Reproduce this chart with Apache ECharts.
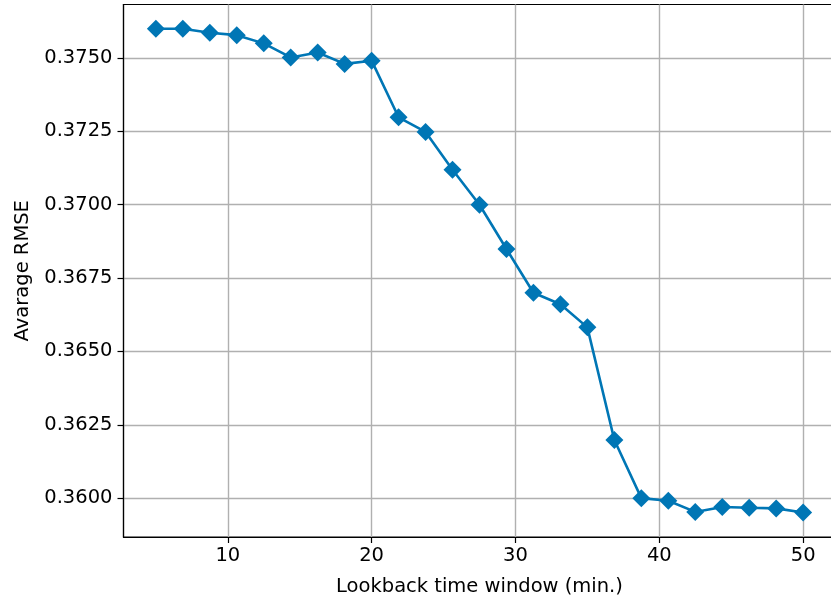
<!DOCTYPE html>
<html>
<head>
<meta charset="utf-8">
<script src="https://cdn.jsdelivr.net/npm/echarts@6/dist/echarts.min.js"></script>
<style>
  html, body { margin: 0; padding: 0; background: #fff; }
  #chart { width: 831px; height: 600px; }
</style>
</head>
<body>
<div id="chart"></div>
<script>
// Lookback window lengths (minutes)
const windows = [5, 6.875, 8.75, 10.625, 12.5, 14.375, 16.25, 18.125, 20, 21.875,
  23.75, 25.625, 27.5, 29.375, 31.25, 33.125, 35, 36.875, 38.75, 40.625,
  42.5, 44.375, 46.25, 48.125, 50];
// Average RMSE for each window
const avgRmse = [0.3760, 0.3760, 0.37586, 0.37578, 0.3755, 0.37502, 0.37519, 0.3748, 0.37491, 0.37298,
  0.37248, 0.37119, 0.3700, 0.36849, 0.3670, 0.36661, 0.36582, 0.36198, 0.3600, 0.35991,
  0.35953, 0.3597, 0.35967, 0.35965, 0.35951];
// Tick positions
const xTicks = [10, 20, 30, 40, 50];
const yTicks = [0.3600, 0.3625, 0.3650, 0.3675, 0.3700, 0.3725, 0.3750];

const FONT = 'DejaVu Sans';
const FS = 19.5;
const chart = echarts.init(document.getElementById('chart'), null, { renderer: 'canvas' });

chart.setOption({
  animation: false,
  backgroundColor: '#ffffff',
  grid: {
    left: 123.5, top: 4.5, width: 712, height: 532.5,
    outerBoundsMode: 'none',
    containLabel: false,
    show: true, borderColor: '#000', borderWidth: 1.2, backgroundColor: 'transparent'
  },
  xAxis: {
    type: 'value',
    min: 2.75, max: 52.25,
    name: 'Lookback time window (min.)',
    nameLocation: 'middle',
    nameGap: 40,
    nameTextStyle: { fontFamily: FONT, fontSize: FS, color: '#000' },
    axisLine: { show: true, onZero: false, lineStyle: { color: '#000', width: 1.2 } },
    axisTick: { show: true, inside: false, length: 6, customValues: xTicks, lineStyle: { color: '#000', width: 1.2 } },
    axisLabel: { customValues: xTicks, margin: 9, fontFamily: FONT, fontSize: FS, color: '#000',
      formatter: v => String(Math.round(v)) },
    splitLine: { show: true, lineStyle: { color: '#b0b0b0', width: 1.4 } }
  },
  yAxis: {
    type: 'value',
    min: 0.358675, max: 0.376825,
    name: 'Avarage RMSE',
    nameLocation: 'middle',
    nameGap: 91,
    nameTextStyle: { fontFamily: FONT, fontSize: FS, color: '#000' },
    axisLine: { show: true, onZero: false, lineStyle: { color: '#000', width: 1.2 } },
    axisTick: { show: true, inside: false, length: 6, customValues: yTicks, lineStyle: { color: '#000', width: 1.2 } },
    axisLabel: { customValues: yTicks, margin: 11, fontFamily: FONT, fontSize: FS, color: '#000',
      formatter: v => v.toFixed(4) },
    splitLine: { show: true, lineStyle: { color: '#b0b0b0', width: 1.4 } }
  },
  series: [{
    type: 'line',
    data: windows.map((w, i) => [w, avgRmse[i]]),
    symbol: 'diamond',
    symbolSize: 18,
    showAllSymbol: true,
    lineStyle: { color: '#0076B5', width: 2.6 },
    itemStyle: { color: '#0076B5' },
    z: 5
  }]
});
</script>
</body>
</html>
